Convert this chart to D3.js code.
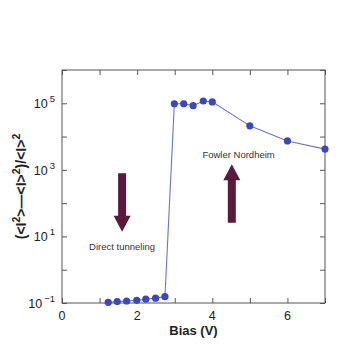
<!DOCTYPE html>
<html>
<head>
<meta charset="utf-8">
<script src="https://cdn.jsdelivr.net/npm/d3@7"></script>
<style>
	body { margin: 0; background: #fff; }
	text { font-family: "Liberation Sans", Arial, sans-serif; }
</style>
</head>
<body>
<svg id="chart" width="359" height="359"></svg>
<script>
// bias (V) vs normalized noise
const tunnelBias = [1.23, 1.47, 1.72, 1.99, 2.23, 2.49, 2.74];
const tunnelNoise = [0.105, 0.11, 0.115, 0.12, 0.13, 0.14, 0.155];
const fnBias = [2.99, 3.24, 3.49, 3.76, 4.0, 5.0, 6.0, 7.0];
const fnNoise = [9.7e4, 9.7e4, 8.5e4, 1.17e5, 1.1e5, 2.1e4, 7.4e3, 4.2e3];

const xTicks = [0, 1, 2, 3, 4, 5, 6, 7];
const xLabels = [0, 2, 4, 6];
const yTicks = [-1, 0, 1, 2, 3, 4, 5, 6];
const yLabels = [-1, 1, 3, 5];

// arrows: [x, yFrom, yTo] in data units (yTo is the tip)
const arrows = [
	[1.6, Math.pow(10, 2.9), Math.pow(10, 1.14)],
	[4.52, Math.pow(10, 1.41), Math.pow(10, 3.17)],
];
const notes = [
	{ x: 1.6, y: Math.pow(10, 0.6), text: 'Direct tunneling' },
	{ x: 4.7, y: Math.pow(10, 3.35), text: 'Fowler Nordheim' },
];

const m = { left: 62, right: 325, top: 70, bottom: 303 };
const x = d3.scaleLinear().domain([0, 7]).range([m.left, m.right]);
const y = d3.scaleLog().domain([0.1, 1e6]).range([m.bottom, m.top]);

const svg = d3.select('#chart');
const points = tunnelBias.map((b, i) => [b, tunnelNoise[i]])
	.concat(fnBias.map((b, i) => [b, fnNoise[i]]));

// frame
svg.append('rect')
	.attr('x', m.left).attr('y', m.top)
	.attr('width', m.right - m.left).attr('height', m.bottom - m.top)
	.attr('fill', 'none').attr('stroke', '#555').attr('stroke-width', 1);

const tickLen = 5;
const tickColor = '#555';

// inward ticks on all four sides
svg.append('g')
	.attr('transform', `translate(0,${m.bottom})`)
	.call(d3.axisBottom(x).tickValues(xTicks).tickSize(-tickLen).tickFormat(''))
	.call((g) => g.select('.domain').remove())
	.call((g) => g.selectAll('line').attr('stroke', tickColor));
svg.append('g')
	.attr('transform', `translate(0,${m.top})`)
	.call(d3.axisTop(x).tickValues(xTicks).tickSize(-tickLen).tickFormat(''))
	.call((g) => g.select('.domain').remove())
	.call((g) => g.selectAll('line').attr('stroke', tickColor));
svg.append('g')
	.attr('transform', `translate(${m.left},0)`)
	.call(d3.axisLeft(y).tickValues(yTicks.map((p) => Math.pow(10, p))).tickSize(-tickLen).tickFormat(''))
	.call((g) => g.select('.domain').remove())
	.call((g) => g.selectAll('line').attr('stroke', tickColor));
svg.append('g')
	.attr('transform', `translate(${m.right},0)`)
	.call(d3.axisRight(y).tickValues(yTicks.map((p) => Math.pow(10, p))).tickSize(-tickLen).tickFormat(''))
	.call((g) => g.select('.domain').remove())
	.call((g) => g.selectAll('line').attr('stroke', tickColor));

// x tick labels
svg.append('g')
	.selectAll('text')
	.data(xLabels)
	.join('text')
	.attr('x', (d) => x(d))
	.attr('y', m.bottom + 17)
	.attr('text-anchor', 'middle')
	.attr('font-size', 12.5)
	.attr('fill', '#222')
	.text((d) => d);

// y tick labels, 10^n
const yl = svg.append('g')
	.selectAll('text')
	.data(yLabels)
	.join('text')
	.attr('x', m.left - 7)
	.attr('y', (d) => y(Math.pow(10, d)) + 5)
	.attr('text-anchor', 'end')
	.attr('font-size', 12.5)
	.attr('fill', '#222');
yl.append('tspan').text('10');
yl.append('tspan')
	.attr('dy', -6)
	.attr('font-size', 9.5)
	.attr('dx', 2)
	.text((d) => (d < 0 ? '\u2212' + Math.abs(d) : d));

// axis titles
svg.append('text')
	.attr('x', (m.left + m.right) / 2)
	.attr('y', 335)
	.attr('text-anchor', 'middle')
	.attr('font-size', 13)
	.attr('font-weight', 'bold')
	.attr('fill', '#222')
	.text('Bias (V)');

const yTitle = svg.append('text')
	.attr('transform', `translate(26,${(m.top + m.bottom) / 2}) rotate(-90)`)
	.attr('text-anchor', 'middle')
	.attr('font-size', 14)
	.attr('font-weight', 'bold')
	.attr('fill', '#222');
yTitle.append('tspan').text('(<I');
yTitle.append('tspan').attr('dy', -6).attr('font-size', 10.5).text('2');
yTitle.append('tspan').attr('dy', 6).text('>\u2014<I>');
yTitle.append('tspan').attr('dy', -6).attr('font-size', 10.5).text('2');
yTitle.append('tspan').attr('dy', 6).text(')/<I>');
yTitle.append('tspan').attr('dy', -6).attr('font-size', 10.5).text('2');

// data line and markers
svg.append('path')
	.datum(points)
	.attr('d', d3.line().x((d) => x(d[0])).y((d) => y(d[1])))
	.attr('fill', 'none')
	.attr('stroke', '#6b73c8')
	.attr('stroke-width', 1.1);

svg.append('g')
	.selectAll('circle')
	.data(points)
	.join('circle')
	.attr('cx', (d) => x(d[0]))
	.attr('cy', (d) => y(d[1]))
	.attr('r', 3.6)
	.attr('fill', '#3a48b8');

// arrows
const arrowColor = '#5a1a3e';
const shaftW = 4, headW = 8.5, headL = 16;
svg.append('g')
	.selectAll('path')
	.data(arrows)
	.join('path')
	.attr('d', (a) => {
		const cx = x(a[0]);
		const y0 = y(a[1]);
		const y1 = y(a[2]);
		const dir = y1 > y0 ? 1 : -1;
		const yb = y1 - dir * headL;
		return `M${cx - shaftW},${y0} L${cx + shaftW},${y0} L${cx + shaftW},${yb} L${cx + headW},${yb} L${cx},${y1} L${cx - headW},${yb} L${cx - shaftW},${yb} Z`;
	})
	.attr('fill', arrowColor);

svg.append('g')
	.selectAll('text')
	.data(notes)
	.join('text')
	.attr('x', (d) => x(d.x))
	.attr('y', (d) => y(d.y))
	.attr('text-anchor', 'middle')
	.attr('font-size', 9.5)
	.attr('fill', '#333')
	.text((d) => d.text);
</script>
</body>
</html>
